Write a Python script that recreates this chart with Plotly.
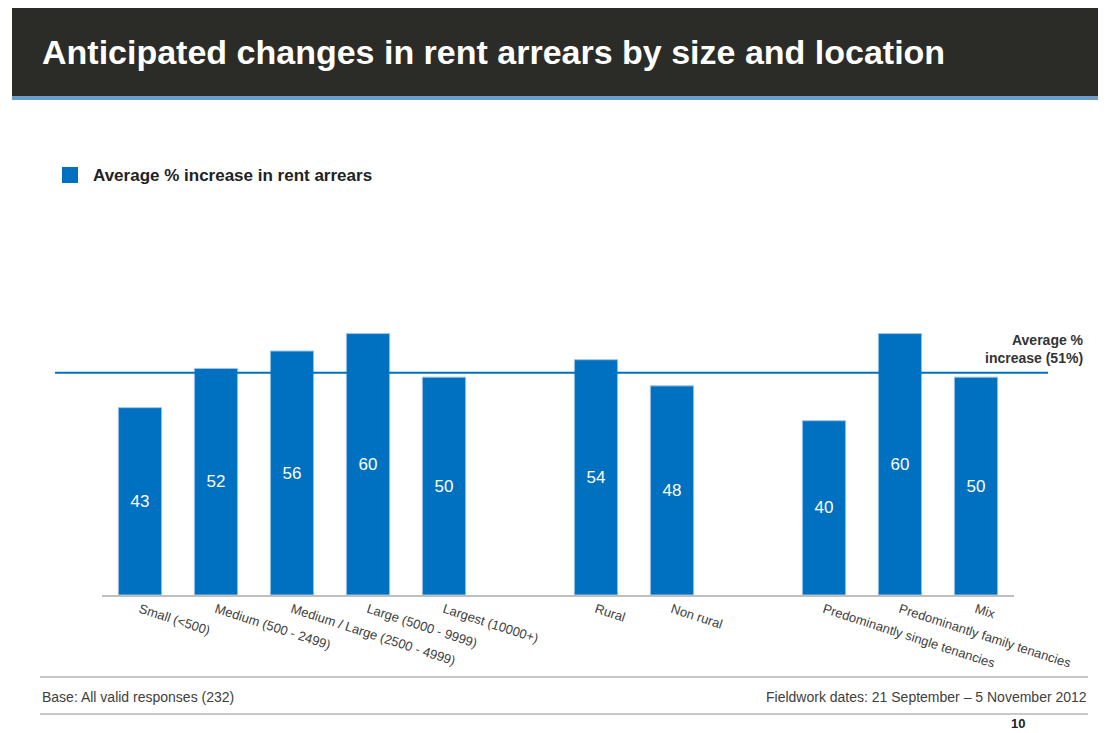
import plotly.graph_objects as go

# data
size_groups = ["Small (<500)", "Medium (500 - 2499)", "Medium / Large (2500 - 4999)",
               "Large (5000 - 9999)", "Largest (10000+)"]
size_values = [43, 52, 56, 60, 50]

location_groups = ["Rural", "Non rural"]
location_values = [54, 48]

tenancy_groups = ["Predominantly single tenancies", "Predominantly family tenancies", "Mix"]
tenancy_values = [40, 60, 50]

average_value = 51

title = "Anticipated changes in rent arrears by size and location"
series_name = "Average % increase in rent arrears"
base_note = "Base: All valid responses (232)"
fieldwork_note = "Fieldwork dates: 21 September \u2013 5 November 2012"
page_no = "10"

# build category axis with an empty slot between groups
cats = []
vals = []
for i, (g, v) in enumerate([(size_groups, size_values),
                            (location_groups, location_values),
                            (tenancy_groups, tenancy_values)]):
    if i > 0:
        cats.append(" " * i)
        vals.append(None)
    cats += g
    vals += v

# page body has an 8px margin, so the figure sits at (8, 8) in the window
OFF = 8
W, H = 1106 - OFF, 733 - OFF
L, R, T, B = 102 - OFF, 92, 290 - OFF, 138
FONT = "Arial, Liberation Sans, sans-serif"
BLUE = "#0070c0"


def px_x(x):
    return (x - OFF - L) / (W - L - R)


def px_y(y):
    return (H - B - (y - OFF)) / (H - T - B)


fig = go.Figure()
fig.add_trace(go.Bar(
    x=cats, y=vals, name=series_name,
    marker=dict(color=BLUE, line=dict(color="#9fc5e8", width=1)),
    text=[("" if v is None else str(v)) for v in vals],
    textposition="inside", insidetextanchor="middle", textangle=0,
    textfont=dict(color="white", size=17, family=FONT),
    showlegend=False,
))

shapes = []
# header band
shapes.append(dict(type="rect", xref="paper", yref="paper",
                   x0=px_x(12), x1=px_x(1110), y0=px_y(96), y1=px_y(8),
                   fillcolor="#2b2b27", line=dict(width=0), layer="below"))
shapes.append(dict(type="rect", xref="paper", yref="paper",
                   x0=px_x(12), x1=px_x(1110), y0=px_y(100), y1=px_y(96),
                   fillcolor="#6a9ec8", line=dict(width=0), layer="below"))
# legend square
shapes.append(dict(type="rect", xref="paper", yref="paper",
                   x0=px_x(62), x1=px_x(78), y0=px_y(183), y1=px_y(167),
                   fillcolor=BLUE, line=dict(width=0)))
# average line
shapes.append(dict(type="line", xref="paper", yref="y",
                   x0=px_x(55), x1=px_x(1048), y0=average_value, y1=average_value,
                   line=dict(color=BLUE, width=2)))
# footer rules
for yy in (677, 714):
    shapes.append(dict(type="line", xref="paper", yref="paper",
                       x0=px_x(40), x1=px_x(1088), y0=px_y(yy), y1=px_y(yy),
                       line=dict(color="#c8c8c8", width=2)))

annotations = [
    dict(text="<b>%s</b>" % title, xref="paper", yref="paper", x=px_x(40), y=px_y(52),
         xanchor="left", yanchor="middle", showarrow=False,
         font=dict(color="white", size=34, family=FONT)),
    dict(text="<b>%s</b>" % series_name, xref="paper", yref="paper", x=px_x(91), y=px_y(175),
         xanchor="left", yanchor="middle", showarrow=False,
         font=dict(color="#222222", size=17, family=FONT)),
    dict(text="<b>Average %%<br>increase (%d%%)</b>" % average_value, xref="paper", yref="paper",
         x=px_x(1086), y=px_y(349), xanchor="right", yanchor="middle", align="right",
         showarrow=False, font=dict(color="#333333", size=14, family=FONT)),
    dict(text=base_note, xref="paper", yref="paper", x=px_x(40), y=px_y(697),
         xanchor="left", yanchor="middle", showarrow=False,
         font=dict(color="#404040", size=14, family=FONT)),
    dict(text=fieldwork_note, xref="paper", yref="paper", x=px_x(1089), y=px_y(697),
         xanchor="right", yanchor="middle", showarrow=False,
         font=dict(color="#404040", size=14, family=FONT)),
    dict(text="<b>%s</b>" % page_no, xref="paper", yref="paper", x=px_x(1018), y=px_y(733),
         xanchor="center", yanchor="bottom", showarrow=False,
         font=dict(color="#222222", size=13, family=FONT)),
]

fig.update_layout(
    width=W, height=H,
    margin=dict(l=L, r=R, t=T, b=B, autoexpand=False),
    paper_bgcolor="white", plot_bgcolor="white",
    bargap=0.43,
    shapes=shapes, annotations=annotations,
    font=dict(family=FONT),
)
fig.update_xaxes(
    type="category", categoryorder="array", categoryarray=cats,
    range=[-0.5, len(cats) - 0.5],
    showline=True, linecolor="#bfbfbf", linewidth=2,
    showgrid=False, ticks="", tickangle=18,
    tickfont=dict(size=13, color="#404040", family=FONT),
)
fig.update_yaxes(range=[0, 70], visible=False, showgrid=False)

fig.write_html("out.html")
